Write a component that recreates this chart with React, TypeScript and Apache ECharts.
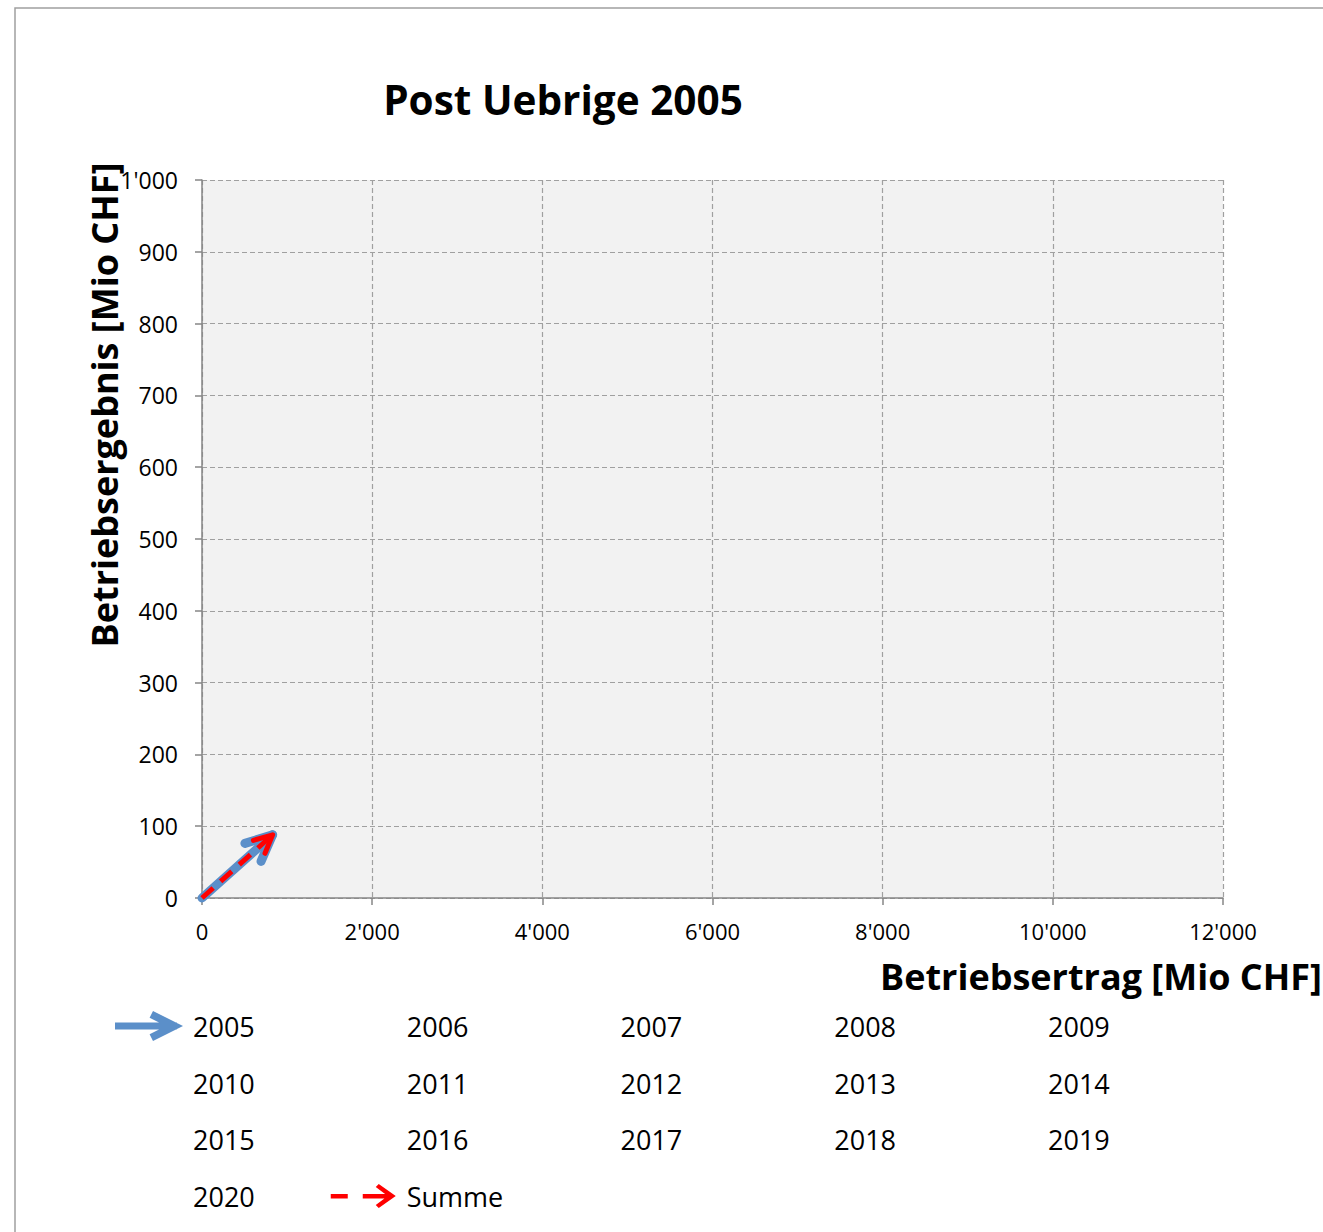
import React, { useEffect, useRef } from "react";
import * as echarts from "echarts";

const titleText = "Post Uebrige 2005";
const xAxisName = "Betriebsertrag [Mio CHF]";
const yAxisName = "Betriebsergebnis [Mio CHF]";
const xMin = 0, xMax = 12000, xStep = 2000;
const yMin = 0, yMax = 1000, yStep = 100;
// arrow from start (x, y) to end (x, y)
const arrow2005 = [[0, 0, 830, 88]];
const arrowSumme = [[0, 0, 830, 88]];
const emptyYears = ["2006", "2007", "2008", "2009", "2010", "2011", "2012", "2013", "2014", "2015", "2016", "2017", "2018", "2019", "2020"];
const legendOrder = ["2005", ...emptyYears, "Summe"];

const BLUE = "#5B8FC9";
const RED = "#FF0000";
const FONT = "Open Sans";

const fmt = (v: number) => {
  const s = String(Math.round(v));
  return s.replace(/\B(?=(\d{3})+(?!\d))/g, "'");
};

const blueIcon =
  "path://M0 0 L0 0 Z M70 32 L70 32 Z M2 12.5 L64 12.5 L64 19.5 L2 19.5 Z M36.6 7.7 L40 1 L70 16 L40 31 L36.6 24.3 L53 16 Z";
const redIcon =
  "path://M0 0 L0 0 Z M70 32 L70 32 Z M4 14 L21 14 L21 18.5 L4 18.5 Z M36 14 L63 14 L63 18.5 L36 18.5 Z M49 7 L52 4 L69 16 L52 28 L49 25 L61 16 Z";

function makeArrowRenderer(color: string, width: number, headLen: number, half: number, dash: number[] | null) {
  return (params: any, api: any) => {
    const p0 = api.coord([api.value(0), api.value(1)]);
    const p1 = api.coord([api.value(2), api.value(3)]);
    const ang = Math.atan2(p1[1] - p0[1], p1[0] - p0[0]);
    const a1 = ang + Math.PI - half;
    const a2 = ang + Math.PI + half;
    const h1 = [p1[0] + headLen * Math.cos(a1), p1[1] + headLen * Math.sin(a1)];
    const h2 = [p1[0] + headLen * Math.cos(a2), p1[1] + headLen * Math.sin(a2)];
    const shaftStyle: any = { stroke: color, lineWidth: width, lineCap: dash ? "butt" : "round", fill: null };
    if (dash) shaftStyle.lineDash = dash;
    return {
      type: "group",
      children: [
        { type: "line", shape: { x1: p0[0], y1: p0[1], x2: p1[0], y2: p1[1] }, style: shaftStyle },
        {
          type: "polyline",
          shape: { points: [h1, p1, h2] },
          style: { stroke: color, lineWidth: width, lineCap: "round", lineJoin: "round", fill: null },
        },
      ],
    };
  };
}

export default function App() {
  const ref = useRef<HTMLDivElement>(null);
  useEffect(() => {
    if (!ref.current) return;
    const chart = echarts.init(ref.current, null, { renderer: "svg" });
    const series: any[] = [
      {
        name: "2005",
        type: "custom",
        data: arrow2005,
        encode: { x: [0, 2], y: [1, 3] },
        itemStyle: { color: BLUE },
        renderItem: makeArrowRenderer(BLUE, 9, 29, 0.43, null),
      },
      ...emptyYears.map((y) => ({
        name: y,
        type: "custom",
        data: [],
        itemStyle: { color: "#000" },
        renderItem: () => null,
      })),
      {
        name: "Summe",
        type: "custom",
        data: arrowSumme,
        encode: { x: [0, 2], y: [1, 3] },
        itemStyle: { color: RED },
        renderItem: makeArrowRenderer(RED, 5, 20, 0.45, [15, 10]),
      },
    ];
    const iconFor = (n: string) => (n === "2005" ? blueIcon : n === "Summe" ? redIcon : "none");
    const rowTops = [1010, 1067, 1123, 1180];
    const legends = rowTops.map((top, r) => ({
      show: true,
      left: 113,
      top,
      orient: "horizontal",
      padding: 0,
      itemWidth: 70,
      itemHeight: 32,
      itemGap: 72,
      selectedMode: false,
      itemStyle: { borderWidth: 0 },
      textStyle: { fontFamily: FONT, fontSize: 27, color: "#000", padding: [0, 0, 0, 5] },
      data: legendOrder.slice(r * 5, r * 5 + 5).map((n) => ({ name: n, icon: iconFor(n) })),
    }));
    chart.setOption({
      animation: false,
      backgroundColor: "#ffffff",
      textStyle: { fontFamily: FONT },
      title: {
        text: titleText,
        left: 558,
        textAlign: "center",
        top: 74,
        textStyle: { fontFamily: FONT, fontSize: 40.5, fontWeight: "bold", color: "#000" },
      },
      grid: {
        left: 202,
        top: 180,
        right: 100,
        bottom: 334,
        show: true,
        backgroundColor: "#f2f2f2",
        borderWidth: 0,
        containLabel: false,
        outerBoundsMode: "none",
      },
      xAxis: {
        type: "value",
        min: xMin,
        max: xMax,
        interval: xStep,
        name: xAxisName,
        nameLocation: "middle",
        nameGap: 60,
        nameMoveOverlap: false,
        nameTextStyle: {
          fontFamily: FONT,
          fontSize: 36,
          fontWeight: "bold",
          color: "#000",
          padding: [0, 0, 0, 777],
        },
        axisLine: { show: true, lineStyle: { color: "#868686", width: 1.5 } },
        axisTick: { show: true, length: 7, lineStyle: { color: "#868686", width: 1.5 } },
        axisLabel: { fontFamily: FONT, fontSize: 22, color: "#000", margin: 22, formatter: fmt },
        splitLine: { show: true, lineStyle: { color: "#a0a0a0", type: [5, 3], width: 1.2 } },
      },
      yAxis: {
        type: "value",
        min: yMin,
        max: yMax,
        interval: yStep,
        name: yAxisName,
        nameLocation: "middle",
        nameRotate: 90,
        nameGap: 80,
        nameMoveOverlap: false,
        nameTextStyle: {
          fontFamily: FONT,
          fontSize: 36,
          fontWeight: "bold",
          color: "#000",
          padding: [0, 0, 0, 268],
        },
        axisLine: { show: true, lineStyle: { color: "#868686", width: 1.5 } },
        axisTick: { show: true, length: 7, lineStyle: { color: "#868686", width: 1.5 } },
        axisLabel: { fontFamily: FONT, fontSize: 23, color: "#000", margin: 24, formatter: fmt },
        splitLine: { show: true, lineStyle: { color: "#a0a0a0", type: [5, 3], width: 1.2 } },
      },
      legend: legends,
      graphic: [
        {
          type: "rect",
          silent: true,
          shape: { x: 15, y: 8, width: 1400, height: 1400 },
          style: { fill: null, stroke: "#a0a0a0", lineWidth: 1.5 },
        },
      ],
      series,
    });
    return () => chart.dispose();
  }, []);
  return (
    <div
      ref={ref}
      style={{ position: "fixed", left: 0, top: 0, width: 1323, height: 1232 }}
    />
  );
}
